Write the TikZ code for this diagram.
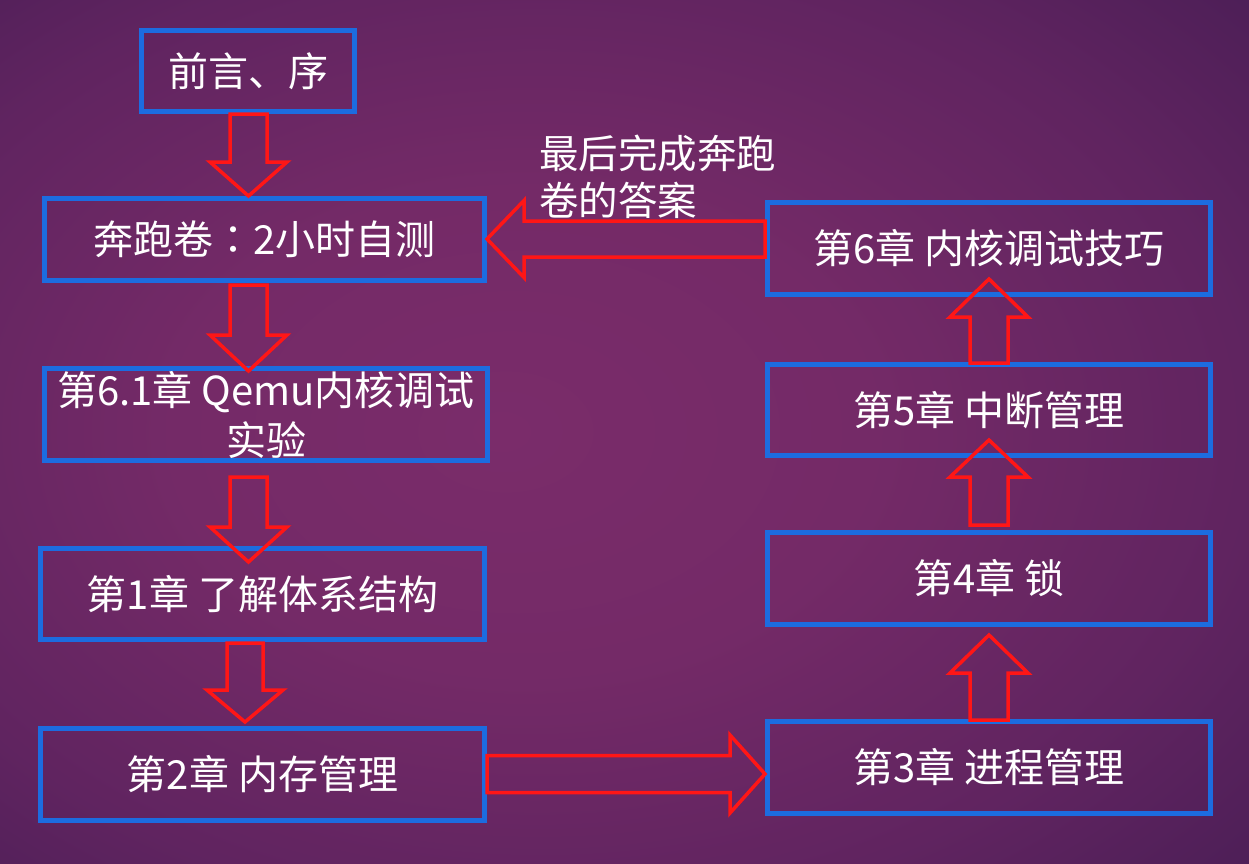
\documentclass[tikz,border=0pt]{standalone}
\usepackage{fontspec}
\setmainfont{Noto Sans CJK SC}
\newfontfamily\cjktc{Noto Sans CJK TC}
\usetikzlibrary{calc}
\definecolor{boxblue}{RGB}{28,108,224}
\definecolor{arrred}{RGB}{255,22,22}
\pgfdeclareradialshading{bgsh}{\pgfpoint{-5bp}{0bp}}{%
 color(0bp)=(rgb,255:red,122;green,44;blue,106);
 color(14bp)=(rgb,255:red,116;green,42;blue,103);
 color(28bp)=(rgb,255:red,96;green,36;blue,96);
 color(42bp)=(rgb,255:red,68;green,28;blue,83);
 color(56bp)=(rgb,255:red,42;green,23;blue,70);
 color(75bp)=(rgb,255:red,30;green,20;blue,62)}
\newcommand\blockarr[5]{%
  \coordinate (hb) at ($(#2)!#5!(#1)$);
  \draw[arrline] ($(#1)!#3!90:(#2)$) -- ($(hb)!#3!90:(#2)$) -- ($(hb)!#4!90:(#2)$)
     -- (#2) -- ($(hb)!#4!-90:(#2)$) -- ($(hb)!#3!-90:(#2)$) -- ($(#1)!#3!-90:(#2)$) -- cycle;}
\begin{document}
\begin{tikzpicture}[x=1pt,y=-1pt,
  box/.style={draw=boxblue, line width=5pt, text=white, inner sep=0pt,
    font=\fontsize{40}{50}\selectfont, align=center},
  lbl/.style={text=white, inner sep=0pt, font=\fontsize{39.5}{47}\selectfont, align=left},
  arrline/.style={draw=arrred, line width=3.5pt, line join=miter}]
\useasboundingbox (0,0) rectangle (1249,863);
\shade[shading=bgsh] (0,0) rectangle (1249,863);
% left column
\node[box, minimum width=213pt, minimum height=81pt] (b1) at (248,71) {前言、序};
\node[box, minimum width=440pt, minimum height=82pt] (b2) at (264.5,239.5) {奔跑卷{\cjktc ：}2小时自测};
\node[box, minimum width=443pt, minimum height=92pt] (b3) at (266,414.5) {第6.1章 Qemu内核调试\\实验};
\node[box, minimum width=444pt, minimum height=91pt] (b4) at (262.5,594) {第1章 了解体系结构};
\node[box, minimum width=444pt, minimum height=92pt] (b5) at (262.5,774.5) {第2章 内存管理};
% right column
\node[box, minimum width=443pt, minimum height=92pt] (b6) at (989,767.5) {第3章 进程管理};
\node[box, minimum width=443pt, minimum height=92pt] (b7) at (989,578.5) {第4章 锁};
\node[box, minimum width=443pt, minimum height=91pt] (b8) at (989,410) {第5章 中断管理};
\node[box, minimum width=443pt, minimum height=92pt] (b9) at (989,248.5) {第6章 内核调试技巧};
% label
\node[lbl, anchor=north west] (note) at (539,135) {最后完成奔跑\\卷的答案};
% helper coordinates
\coordinate (colL) at (248.5,0);
\coordinate (colL4) at (245,0);
\coordinate (rowB) at (0,774);
\coordinate (rowT) at (0,239);
\coordinate (a1s) at (b1.south -| colL);
\coordinate (a1e) at (b2.north -| colL);
\coordinate (a2s) at ($(b2.south -| colL)+(0,2)$);
\coordinate (a2e) at ($(b3.north -| colL)+(0,5)$);
\coordinate (a3s) at ($(b3.south -| colL)+(0,14)$);
\coordinate (a3e) at ($(b4.north -| colL)+(0,16)$);
\coordinate (a4s) at ($(b4.south -| colL4)+(0,1)$);
\coordinate (a4e) at ($(b5.north -| colL4)+(0,-4)$);
\coordinate (a5s) at (b5.east |- rowB);
\coordinate (a5e) at (b6.west |- rowB);
\coordinate (a6s) at (b9.west |- rowT);
\coordinate (a6e) at (b2.east |- rowT);
\coordinate (u1s) at ($(b6.north)+(0,1)$);
\coordinate (u1e) at ($(b7.south)+(0,8)$);
\coordinate (u2s) at ($(b7.north)+(0,-5)$);
\coordinate (u2e) at ($(b8.south)+(0,-18)$);
\coordinate (u3s) at ($(b8.north)+(0,1)$);
\coordinate (u3e) at ($(b9.south)+(0,-18)$);
% block arrows
\blockarr{a1s}{a1e}{18.5pt}{38.5pt}{34pt}
\blockarr{a2s}{a2e}{18.5pt}{38.5pt}{36pt}
\blockarr{a3s}{a3e}{18.5pt}{38.5pt}{35pt}
\blockarr{a4s}{a4e}{18pt}{38pt}{32pt}
\blockarr{a5s}{a5e}{18.5pt}{39pt}{35pt}
\blockarr{a6s}{a6e}{18pt}{38.5pt}{37pt}
\blockarr{u1s}{u1e}{19pt}{39pt}{38pt}
\blockarr{u2s}{u2e}{19pt}{39pt}{37pt}
\blockarr{u3s}{u3e}{19pt}{39pt}{38pt}
\end{tikzpicture}
\end{document}
